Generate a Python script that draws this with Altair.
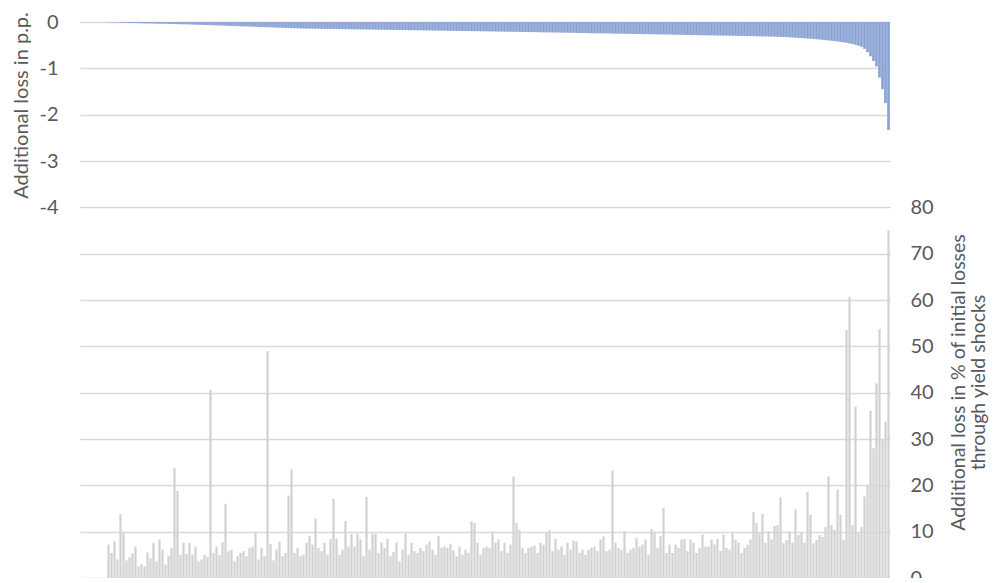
import altair as alt
import pandas as pd

# Additional loss in p.p. (top panel, blue bars), sorted
blue = [
    0, 0, 0, 0, 0, 0, 0, 0, 0, -0.005,
    -0.008, -0.010, -0.012, -0.014, -0.016, -0.018, -0.020, -0.022, -0.023, -0.025,
    -0.027, -0.029, -0.030, -0.032, -0.034, -0.035, -0.037, -0.039, -0.040, -0.042,
    -0.044, -0.045, -0.047, -0.049, -0.050, -0.052, -0.054, -0.056, -0.058, -0.060,
    -0.062, -0.064, -0.067, -0.069, -0.072, -0.074, -0.076, -0.079, -0.081, -0.083,
    -0.086, -0.088, -0.090, -0.093, -0.095, -0.097, -0.100, -0.102, -0.104, -0.107,
    -0.109, -0.111, -0.114, -0.116, -0.118, -0.121, -0.123, -0.125, -0.128, -0.130,
    -0.132, -0.135, -0.137, -0.140, -0.141, -0.142, -0.143, -0.144, -0.145, -0.146,
    -0.147, -0.148, -0.149, -0.150, -0.151, -0.152, -0.153, -0.154, -0.155, -0.156,
    -0.157, -0.158, -0.159, -0.160, -0.161, -0.162, -0.163, -0.164, -0.165, -0.166,
    -0.167, -0.168, -0.169, -0.170, -0.171, -0.172, -0.173, -0.174, -0.175, -0.176,
    -0.177, -0.178, -0.179, -0.180, -0.181, -0.182, -0.183, -0.184, -0.185, -0.186,
    -0.187, -0.188, -0.189, -0.190, -0.191, -0.192, -0.193, -0.194, -0.195, -0.196,
    -0.197, -0.198, -0.199, -0.200, -0.201, -0.202, -0.203, -0.204, -0.205, -0.206,
    -0.207, -0.208, -0.209, -0.210, -0.211, -0.212, -0.214, -0.215, -0.216, -0.217,
    -0.218, -0.219, -0.220, -0.222, -0.223, -0.224, -0.225, -0.226, -0.227, -0.228,
    -0.230, -0.231, -0.232, -0.233, -0.234, -0.235, -0.237, -0.238, -0.239, -0.240,
    -0.241, -0.242, -0.244, -0.245, -0.246, -0.247, -0.248, -0.250, -0.251, -0.252,
    -0.253, -0.254, -0.256, -0.257, -0.258, -0.259, -0.260, -0.262, -0.263, -0.264,
    -0.265, -0.266, -0.268, -0.269, -0.270, -0.271, -0.272, -0.274, -0.275, -0.276,
    -0.277, -0.278, -0.280, -0.281, -0.282, -0.283, -0.284, -0.286, -0.287, -0.288,
    -0.289, -0.290, -0.292, -0.293, -0.294, -0.295, -0.296, -0.298, -0.299, -0.300,
    -0.301, -0.302, -0.304, -0.305, -0.306, -0.308, -0.309, -0.311, -0.312, -0.314,
    -0.315, -0.317, -0.319, -0.321, -0.324, -0.327, -0.331, -0.335, -0.339, -0.343,
    -0.347, -0.351, -0.356, -0.361, -0.366, -0.372, -0.378, -0.384, -0.391, -0.398,
    -0.405, -0.413, -0.421, -0.430, -0.440, -0.450, -0.462, -0.476, -0.492, -0.510,
    -0.535, -0.580, -0.650, -0.740, -0.840, -0.960, -1.200, -1.450, -1.750, -2.330,
]

# Additional loss in % of initial losses through yield shocks (grey bars)
gray = [
    0, 0, 0, 0, 0, 0, 0, 0, 0, 7.2,
    5.4, 7.9, 4.0, 13.8, 10.0, 3.8, 4.5, 5.3, 6.8, 2.5,
    3.0, 2.5, 5.5, 4.2, 7.6, 3.6, 8.3, 6.1, 2.9, 4.8,
    6.5, 23.7, 18.8, 5.0, 7.6, 5.2, 7.6, 5.0, 6.8, 3.6,
    4.0, 5.0, 4.6, 40.6, 5.4, 6.8, 4.9, 7.7, 16.0, 5.8,
    6.1, 3.6, 4.7, 5.4, 5.8, 4.7, 6.5, 6.8, 10.0, 4.0,
    6.5, 4.7, 49.0, 7.3, 3.8, 6.1, 7.8, 4.7, 5.4, 17.8,
    23.4, 5.4, 6.5, 4.7, 5.0, 7.6, 9.1, 7.2, 12.8, 6.5,
    5.8, 7.6, 5.0, 8.4, 17.1, 8.6, 5.0, 6.1, 12.3, 6.8,
    9.5, 6.8, 9.6, 8.3, 4.7, 17.5, 6.1, 9.6, 9.5, 5.4,
    7.7, 6.5, 8.4, 4.7, 5.6, 7.7, 3.6, 6.1, 9.6, 5.0,
    7.6, 5.8, 5.4, 6.5, 5.8, 7.2, 7.9, 6.1, 5.0, 9.1,
    6.5, 6.8, 6.5, 7.4, 6.0, 4.7, 6.8, 5.0, 6.1, 5.4,
    12.2, 11.9, 7.6, 5.0, 6.5, 6.8, 6.5, 10.0, 7.6, 8.3,
    5.8, 7.6, 5.4, 7.2, 21.9, 11.9, 10.4, 6.5, 5.4, 6.5,
    6.8, 7.0, 5.4, 7.6, 7.2, 9.7, 10.3, 5.8, 8.4, 6.1,
    6.8, 5.0, 7.6, 6.1, 8.1, 7.9, 5.4, 6.1, 5.0, 6.1,
    6.5, 6.8, 5.8, 8.3, 9.0, 5.8, 6.1, 23.2, 7.6, 6.5,
    6.1, 10.1, 5.4, 6.1, 6.5, 8.6, 6.8, 7.2, 8.3, 5.0,
    10.6, 10.0, 6.5, 9.0, 15.1, 5.4, 7.2, 5.4, 7.2, 6.5,
    8.3, 8.4, 5.8, 8.3, 7.6, 5.4, 6.5, 9.4, 6.8, 6.8,
    8.3, 7.2, 8.4, 5.8, 9.4, 6.5, 6.1, 9.7, 8.3, 7.6,
    5.4, 6.5, 7.2, 8.3, 14.2, 11.9, 9.7, 13.8, 7.6, 10.1,
    8.3, 11.2, 11.4, 17.4, 7.5, 8.2, 10.0, 7.6, 14.8, 9.3,
    9.7, 7.6, 18.6, 13.6, 7.5, 8.2, 9.3, 8.9, 11.0, 21.9,
    11.4, 10.4, 19.1, 13.6, 8.2, 53.5, 60.7, 11.4, 37.0, 9.7,
    11.0, 17.6, 19.9, 36.1, 28.0, 42.0, 53.7, 29.8, 33.7, 75.0,
]

left_ticks = list(range(-12, 1))
right_ticks = [0, 10, 20, 30, 40, 50, 60, 70, 80]
left_title = "Additional loss in p.p."
right_title = ["Additional loss in % of initial losses", "through yield shocks"]

df = pd.DataFrame({"i": list(range(len(blue))), "blue": blue, "gray": gray})

FONT = "Lato"
TXT = "#595959"

base = alt.Chart(df).encode(
    x=alt.X("i:O", axis=None, sort=None,
            scale=alt.Scale(paddingInner=0, paddingOuter=0))
)

blue_layer = base.mark_bar(color="#8aa3d4", width={"band": 0.9}).encode(
    y=alt.Y("blue:Q",
            scale=alt.Scale(domain=[-12, 0], nice=False),
            axis=alt.Axis(values=left_ticks, grid=True, gridColor="#d9d9d9",
                          gridWidth=1.5, domain=False, ticks=False, tickSize=0,
                          labelExpr="datum.value >= -4 ? toString(datum.value) : ''",
                          labelFont=FONT, labelFontSize=20, labelColor=TXT,
                          labelPadding=22, labelFlush=False, labelOverlap=False,
                          title=left_title, titleFont=FONT, titleFontSize=20,
                          titleFontWeight="normal", titleColor=TXT,
                          titleAngle=270, titleX=-69, titleY=83,
                          titleAlign="center", titleBaseline="top"))
)

gray_layer = base.mark_bar(color="#d2d2d2", width={"band": 0.75}).encode(
    y=alt.Y("gray:Q",
            scale=alt.Scale(domain=[0, 120], nice=False),
            axis=alt.Axis(orient="right", values=right_ticks, grid=False,
                          domain=False, ticks=False, tickSize=0,
                          labelFont=FONT, labelFontSize=20, labelColor=TXT,
                          labelPadding=20, labelAlign="left", labelFlush=False,
                          labelOverlap=False,
                          title=right_title, titleFont=FONT, titleFontSize=19.5,
                          titleFontWeight="normal", titleColor=TXT,
                          titleAngle=270, titleX=59, titleY=360,
                          titleAlign="center", titleBaseline="top",
                          titleLineHeight=20))
)

chart = alt.layer(blue_layer, gray_layer).resolve_scale(y="independent").properties(
    width=810, height=556,
    autosize=alt.AutoSizeParams(type="none"),
    padding={"left": 72, "top": 14, "right": 100, "bottom": 0},
).configure_view(stroke=None)

chart.save("out.html", embed_options={"renderer": "svg", "actions": False})
